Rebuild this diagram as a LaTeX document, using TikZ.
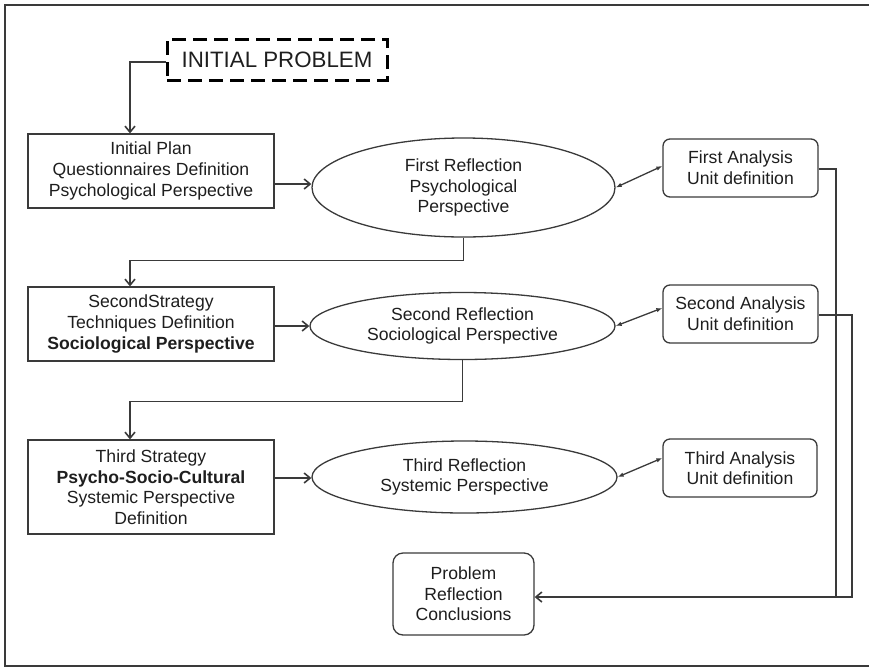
\documentclass[tikz,border=0pt]{standalone}
\usepackage{fontspec}
\setmainfont{Liberation Sans}
\usetikzlibrary{arrows.meta,shapes.geometric,calc}
\definecolor{ink}{HTML}{1E1E1E}
\definecolor{ln}{HTML}{3A3A3A}
\begin{document}
\begin{tikzpicture}[x=1pt,y=-1pt,
  every node/.style={font=\fontsize{17.6}{20.6}\selectfont,text=ink,align=center,inner sep=0pt},
  rbox/.style={draw=ln,line width=1.3pt,rectangle},
  abox/.style={draw=ln,line width=1.3pt,rectangle,rounded corners=7pt},
  ell/.style={draw=ln,line width=1.3pt,ellipse},
  conn/.style={draw=ln,line width=1.3pt},
  arr/.style={conn,-{Straight Barb[length=6pt,width=10pt,line width=1.6pt]}},
  darr/.style={conn,{Latex[length=6pt,width=4.5pt]}-{Latex[length=6pt,width=4.5pt]}}
]
\useasboundingbox (0,0) rectangle (869,667);
% outer frame (right edge lies outside the picture)
\draw[ln,line width=1.6pt] (875,5) -- (5,5) -- (5,666) -- (875,666);

\node[draw=black,line width=3pt,dash pattern=on 14pt off 7pt,minimum width=220pt,minimum height=41pt,font=\fontsize{22.3}{24}\selectfont] (init) at (277,59.5) {INITIAL PROBLEM};

\node[rbox,minimum width=246pt,minimum height=74pt] (b1) at (151,171) {Initial Plan\\Questionnaires Definition\\Psychological Perspective};
\node[rbox,minimum width=246pt,minimum height=74pt] (b2) at (151,324) {SecondStrategy\\Techniques Definition\\\textbf{Sociological Perspective}};
\node[rbox,minimum width=246pt,minimum height=94pt] (b3) at (151,487) {Third Strategy\\\textbf{Psycho-Socio-Cultural}\\Systemic Perspective\\Definition};

\node[ell,minimum width=303pt,minimum height=99pt] (e1) at (463.5,187.5) {First Reflection\\Psychological\\Perspective};
\node[ell,minimum width=305pt,minimum height=67pt] (e2) at (462.5,326) {Second Reflection\\Sociological Perspective};
\node[ell,minimum width=305pt,minimum height=72pt] (e3) at (464.5,477) {Third Reflection\\Systemic Perspective};

\node[abox,minimum width=155pt,minimum height=58pt] (a1) at (740.5,168) {First Analysis\\Unit definition};
\node[abox,minimum width=155pt,minimum height=58pt] (a2) at (740.5,314) {Second Analysis\\Unit definition};
\node[abox,minimum width=154pt,minimum height=58pt] (a3) at (740,468) {Third Analysis\\Unit definition};

\node[abox,rounded corners=10pt,minimum width=141pt,minimum height=82pt] (c) at (463.5,594) {Problem\\Reflection\\Conclusions};

\coordinate (k1) at (836,597);
\coordinate (k2) at (852,597);

\draw[arr] (init.west |- 0,62) -| ([xshift=-21pt]b1.north);
\draw[arr] (b1.east |- 0,184) -- (e1.west |- 0,184);
\draw[arr] (b2.east |- e2.west) -- (e2.west);
\draw[arr] (b3.east |- 0,478) -- (e3.west |- 0,478);

\draw[arr] (e1.south) -- ++(0,23) -| ([xshift=-21pt]b2.north);
\draw[arr] (e2.south) -- ++(0,41.5) -| ([xshift=-21pt]b3.north);

\draw[darr] (e1.east) -- ([yshift=2pt]a1.west);
\draw[darr] (e2.east) -- ([yshift=6pt]a2.west);
\draw[darr] (e3.east) -- ([yshift=10pt]a3.west);

\draw[conn] ([yshift=-1pt]a1.east) -| (k1);
\draw[arr] ([yshift=-1pt]a2.east) -| (k2) -- (c.east |- k2);
\end{tikzpicture}
\end{document}
